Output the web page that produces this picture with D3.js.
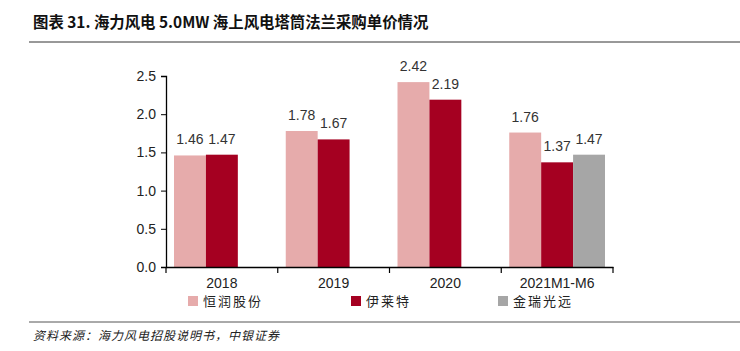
<!DOCTYPE html>
<html>
<head>
<meta charset="utf-8">
<script src="https://cdn.jsdelivr.net/npm/d3@7"></script>
<style>
  body { margin: 0; background: #fff; }
  svg { display: block; }
  .tick text { font-family: "Liberation Sans", Arial, sans-serif; font-size: 14px; fill: #222; }
</style>
</head>
<body>
<div id="chart"></div>
<script>
const categories = ["2018", "2019", "2020", "2021M1-M6"];
const seriesNames = ["恒润股份", "伊莱特", "金瑞光远"];
const hengrun = [1.46, 1.78, 2.42, 1.76];
const yilaite = [1.47, 1.67, 2.19, 1.37];
const jinrui = [null, null, null, 1.47];
const yTicks = [0, 0.5, 1.0, 1.5, 2.0, 2.5];
const colors = ["#E6ABAB", "#A50021", "#A6A6A6"];

(function() {
    const width = 740, height = 351;
    const svg = d3.select("#chart").append("svg")
        .attr("width", width)
        .attr("height", height);

    const cjk = "'Noto Sans CJK SC', 'Liberation Sans', sans-serif";
    const latin = "'Liberation Sans', Arial, sans-serif";

    // 标题
    svg.append("text")
        .attr("x", 33).attr("y", 28)
        .style("font-family", cjk)
        .style("font-weight", "bold")
        .style("font-size", "15.4px")
        .style("fill", "#111")
        .text("图表 31. 海力风电 5.0MW 海上风电塔筒法兰采购单价情况");
    svg.append("line")
        .attr("x1", 29).attr("x2", 740).attr("y1", 42).attr("y2", 42)
        .style("stroke", "#333").style("stroke-width", 1);

    const x = d3.scaleBand().domain(categories).range([166, 613]);
    const y = d3.scaleLinear().domain([0, 2.5]).range([267, 76]);
    const inner = d3.scaleBand().domain(seriesNames).range([8, x.bandwidth() - 8]);

    const data = [hengrun, yilaite, jinrui];

    // 柱子
    seriesNames.forEach((name, si) => {
        const vals = categories.map((c, i) => ({ cat: c, v: data[si][i] }))
            .filter(d => d.v != null);
        const g = svg.append("g");
        g.selectAll("rect").data(vals).enter().append("rect")
            .attr("x", d => x(d.cat) + inner(name))
            .attr("width", inner.bandwidth())
            .attr("y", d => y(d.v))
            .attr("height", d => y(0) - y(d.v))
            .style("fill", colors[si]);
        g.selectAll("text").data(vals).enter().append("text")
            .attr("x", d => x(d.cat) + inner(name) + inner.bandwidth() / 2)
            .attr("y", d => y(d.v) - 11)
            .attr("text-anchor", "middle")
            .style("font-family", latin)
            .style("font-size", "14px")
            .style("fill", "#333")
            .text(d => d.v.toFixed(2));
    });

    // 坐标轴
    const yAxis = svg.append("g")
        .attr("transform", "translate(166,0)")
        .call(d3.axisLeft(y).tickValues(yTicks).tickFormat(d3.format(".1f")).tickSize(5).tickPadding(5));
    yAxis.select(".domain").style("stroke", "#000").style("stroke-width", 1.3);
    yAxis.selectAll(".tick line").style("stroke", "#000");

    const xAxis = svg.append("g")
        .attr("transform", "translate(0,267)")
        .call(d3.axisBottom(x).tickSize(0).tickPadding(8));
    xAxis.select(".domain").style("stroke", "#000").style("stroke-width", 1.3);
    xAxis.selectAll(".tick text").attr("dy", "0.9em");
    // 分类分隔刻度
    svg.append("g").selectAll("line")
        .data(categories.concat(["end"]))
        .enter().append("line")
        .attr("x1", (d, i) => i < categories.length ? x(d) : x.range()[1])
        .attr("x2", (d, i) => i < categories.length ? x(d) : x.range()[1])
        .attr("y1", 267).attr("y2", 273)
        .style("stroke", "#000").style("stroke-width", 1.2);

    // 图例
    const legendX = [188, 351, 498];
    const legend = svg.append("g");
    seriesNames.forEach((name, i) => {
        legend.append("rect")
            .attr("x", legendX[i]).attr("y", 296)
            .attr("width", 10).attr("height", 10)
            .style("fill", colors[i]);
        legend.append("text")
            .attr("x", legendX[i] + 15).attr("y", 306)
            .style("font-family", cjk)
            .style("font-size", "13px")
            .style("letter-spacing", "2px")
            .style("fill", "#222")
            .text(name);
    });

    // 来源
    svg.append("line")
        .attr("x1", 29).attr("x2", 740).attr("y1", 322).attr("y2", 322)
        .style("stroke", "#555").style("stroke-width", 1);
    svg.append("text")
        .attr("x", 33).attr("y", 340)
        .style("font-family", cjk)
        .style("font-size", "12px")
        .style("font-style", "italic")
        .style("letter-spacing", "1px")
        .style("fill", "#222")
        .text("资料来源：海力风电招股说明书，中银证券");
})();
</script>
</body>
</html>
